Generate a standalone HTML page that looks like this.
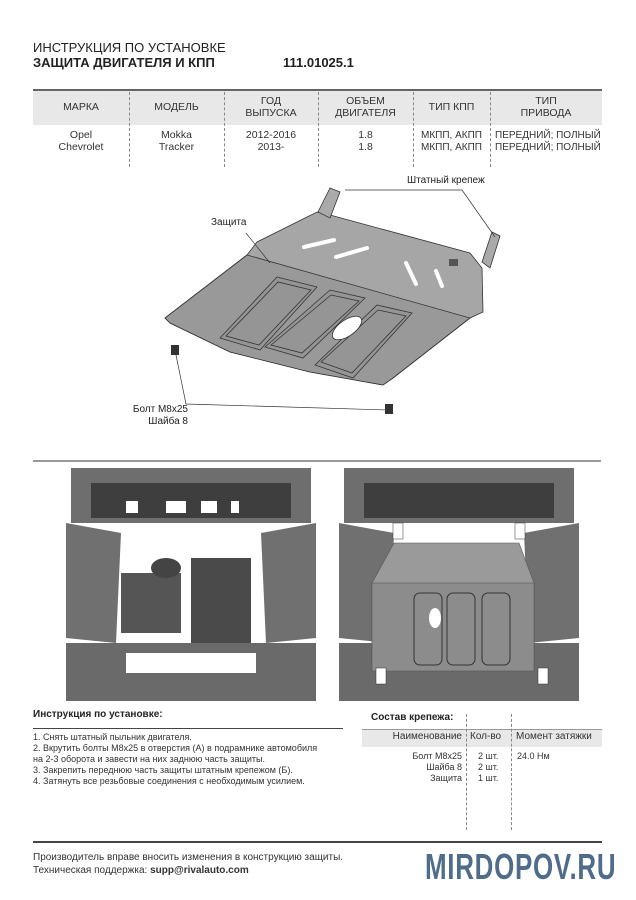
<!DOCTYPE html>
<html><head><meta charset="utf-8"><style>
body{margin:0;background:#fff;width:636px;height:900px;overflow:hidden;position:relative;font-family:"Liberation Sans","DejaVu Sans",sans-serif;color:#222}
.a{position:absolute;white-space:nowrap}
.th{position:absolute;font-size:10.5px;text-align:center;line-height:12px;color:#333;white-space:nowrap}
.td{position:absolute;font-size:10.5px;text-align:center;line-height:11.5px;color:#333;white-space:nowrap}
.dv{position:absolute;border-left:1px dashed #888}
.l{font-size:9px;line-height:11px;color:#333}
</style></head><body>
<div class="a" style="left:33px;top:40px;font-size:13px;color:#222">ИНСТРУКЦИЯ ПО УСТАНОВКЕ</div>
<div class="a" style="left:33px;top:55px;font-size:13px;font-weight:bold">ЗАЩИТА ДВИГАТЕЛЯ И КПП</div>
<div class="a" style="left:283px;top:55px;font-size:13px;font-weight:bold">111.01025.1</div>

<div class="a" style="left:33px;top:89px;width:569px;height:34px;background:#e8e8e8;border-top:2px solid #666"></div>
<div class="th" style="left:33px;top:101px;width:96px">МАРКА</div>
<div class="th" style="left:129px;top:101px;width:95px">МОДЕЛЬ</div>
<div class="th" style="left:224px;top:95px;width:94px">ГОД<br>ВЫПУСКА</div>
<div class="th" style="left:318px;top:95px;width:95px">ОБЪЕМ<br>ДВИГАТЕЛЯ</div>
<div class="th" style="left:413px;top:101px;width:77px">ТИП КПП</div>
<div class="th" style="left:490px;top:95px;width:112px">ТИП<br>ПРИВОДА</div>
<div class="td" style="left:33px;top:130px;width:96px">Opel<br>Chevrolet</div>
<div class="td" style="left:129px;top:130px;width:95px">Mokka<br>Tracker</div>
<div class="td" style="left:224px;top:130px;width:94px">2012-2016<br>2013-</div>
<div class="td" style="left:318px;top:130px;width:95px">1.8<br>1.8</div>
<div class="td" style="left:413px;top:130px;width:77px;font-size:10px">МКПП, АКПП<br>МКПП, АКПП</div>
<div class="td" style="left:495px;top:130px;width:110px;text-align:left;font-size:10px">ПЕРЕДНИЙ; ПОЛНЫЙ<br>ПЕРЕДНИЙ; ПОЛНЫЙ</div>
<div class="dv" style="left:129px;top:92px;height:75px"></div>
<div class="dv" style="left:224px;top:92px;height:75px"></div>
<div class="dv" style="left:318px;top:92px;height:75px"></div>
<div class="dv" style="left:413px;top:92px;height:75px"></div>
<div class="dv" style="left:490px;top:92px;height:75px"></div>

<svg class="a" style="left:0;top:160px" width="636" height="280" viewBox="0 160 636 280">
<g stroke="#333" stroke-width="0.8">
<polygon points="165,318 247,255 257,242 317,212 330,215 470,253 482,268 483,312 470,318 393,378 383,385 310,372 230,352 170,323" fill="#a6a6a6"/>
<polygon points="247,255 470,318 393,378 383,385 310,372 230,352 170,323 165,318" fill="#999"/>
<polygon points="318,212 330,188 340,192 330,218" fill="#aaa"/>
<polygon points="482,262 492,232 500,236 490,268" fill="#aaa"/>
<polygon points="220,338 277,277 317,287 260,350" fill="#959595" stroke-linejoin="round"/>
<polygon points="226,336 278,282 311,290 259,345" fill="none"/>
<polygon points="265,347 330,290 365,298 303,358" fill="#959595"/>
<polygon points="271,345 331,295 359,301 302,353" fill="none"/>
<polygon points="315,365 377,305 412,313 353,378" fill="#959595"/>
<polygon points="321,362 378,310 406,316 352,373" fill="none"/>
<ellipse cx="347" cy="328" rx="17" ry="8" transform="rotate(-35 347 328)" fill="#fff"/>
</g>
<g stroke="#fff" stroke-width="4" stroke-linecap="round">
<line x1="304" y1="247" x2="334" y2="240"/><line x1="336" y1="257" x2="367" y2="248"/>
<line x1="406" y1="263" x2="416" y2="284"/><line x1="436" y1="271" x2="442" y2="286"/>
</g>
<rect x="449" y="259" width="9" height="7" fill="#555"/>
<g stroke="#333" stroke-width="0.7" fill="none">
<line x1="246" y1="233" x2="270" y2="263"/>
<polyline points="345,190 462,190 495,237"/>
<polyline points="176,355 186,404 388,410"/>
</g>
<rect x="171" y="345" width="8" height="10" fill="#333"/>
<rect x="385" y="404" width="8" height="10" fill="#333"/>
</svg>
<div class="a" style="left:211px;top:217px;font-size:10px">Защита</div>
<div class="a" style="left:407px;top:175px;font-size:10px">Штатный крепеж</div>
<div class="a" style="left:100px;top:404px;width:88px;text-align:right;font-size:10px;line-height:12px">Болт М8х25<br>Шайба 8</div>

<div class="a" style="left:33px;top:460px;width:568px;border-top:2px solid #999"></div>
<svg class="a" style="left:66px;top:463px" width="250" height="238">
<rect width="250" height="238" fill="#fff"/>
<rect x="5" y="5" width="240" height="55" fill="#6e6e6e"/>
<rect x="25" y="20" width="200" height="35" fill="#3e3e3e"/>
<rect x="60" y="38" width="12" height="12" fill="#fff"/><rect x="100" y="38" width="20" height="12" fill="#fff"/><rect x="135" y="38" width="16" height="12" fill="#fff"/><rect x="165" y="38" width="8" height="12" fill="#fff"/>
<polygon points="0,60 55,70 50,180 0,175" fill="#707070"/><polygon points="250,60 195,70 200,180 250,175" fill="#707070"/>
<rect x="55" y="110" width="60" height="60" fill="#555"/><rect x="125" y="95" width="60" height="140" fill="#4a4a4a"/>
<ellipse cx="100" cy="105" rx="15" ry="10" fill="#444"/>
<rect x="0" y="180" width="250" height="58" fill="#6a6a6a"/><rect x="60" y="190" width="130" height="20" fill="#fff"/>
</svg>
<svg class="a" style="left:339px;top:463px" width="240" height="238">
<rect width="240" height="238" fill="#fff"/>
<rect x="5" y="5" width="230" height="55" fill="#6e6e6e"/>
<rect x="25" y="20" width="190" height="35" fill="#3e3e3e"/>
<polygon points="0,60 55,70 50,180 0,175" fill="#707070"/><polygon points="240,60 185,70 190,180 240,175" fill="#707070"/>
<rect x="0" y="180" width="240" height="58" fill="#6a6a6a"/>
<polygon points="55,80 180,80 195,120 195,205 33,205 33,120" fill="#9a9a9a" stroke="#555" stroke-width="0.6"/>
<rect x="33" y="120" width="162" height="88" fill="#8c8c8c" stroke="#555" stroke-width="0.6"/>
<rect x="75" y="130" width="28" height="72" rx="6" fill="none" stroke="#333"/><rect x="108" y="130" width="28" height="72" rx="6" fill="none" stroke="#333"/><rect x="143" y="130" width="28" height="72" rx="6" fill="none" stroke="#333"/>
<ellipse cx="96" cy="155" rx="6" ry="10" fill="#fff"/>
<rect x="54" y="60" width="10" height="16" fill="#fff" stroke="#333" stroke-width=".5"/><rect x="176" y="60" width="10" height="16" fill="#fff" stroke="#333" stroke-width=".5"/>
<rect x="37" y="205" width="10" height="16" fill="#fff" stroke="#333" stroke-width=".5"/><rect x="199" y="205" width="10" height="16" fill="#fff" stroke="#333" stroke-width=".5"/>
</svg>

<div class="a" style="left:33px;top:709px;font-size:10px;font-weight:bold">Инструкция по установке:</div>
<div class="a" style="left:33px;top:728px;width:310px;border-top:1px solid #444"></div>
<div class="a l" style="left:33px;top:732px">1. Снять штатный пыльник двигателя.<br>2. Вкрутить болты М8х25 в отверстия (А) в подрамнике автомобиля<br>на 2-3 оборота и завести на них заднюю часть защиты.<br>3. Закрепить переднюю часть защиты штатным крепежом (Б).<br>4. Затянуть все резьбовые соединения с необходимым усилием.</div>

<div class="a" style="left:371px;top:712px;font-size:10px;font-weight:bold">Состав крепежа:</div>
<div class="a" style="left:362px;top:729px;width:240px;height:17px;background:#e8e8e8;border-top:1px solid #999"></div>
<div class="a" style="left:362px;top:731px;width:100px;text-align:right;font-size:10px;color:#333">Наименование</div>
<div class="a" style="left:470px;top:731px;font-size:10px;color:#333">Кол-во</div>
<div class="a" style="left:516px;top:731px;font-size:10px;color:#333">Момент затяжки</div>
<div class="a l" style="left:362px;top:751px;width:100px;text-align:right">Болт М8х25<br>Шайба 8<br>Защита</div>
<div class="a l" style="left:478px;top:751px">2 шт.<br>2 шт.<br>1 шт.</div>
<div class="a l" style="left:517px;top:751px">24.0 Нм</div>
<div class="dv" style="left:466px;top:714px;height:116px"></div>
<div class="dv" style="left:511px;top:714px;height:116px"></div>

<div class="a" style="left:33px;top:841px;width:569px;border-top:2px solid #444"></div>
<div class="a" style="left:33px;top:851px;font-size:10px;line-height:13px;color:#333">Производитель вправе вносить изменения в конструкцию защиты.<br>Техническая поддержка: <b>supp@rivalauto.com</b></div>
<div class="a" style="left:425px;top:846px;font-size:36px;font-weight:bold;color:#4f6c8a;transform:scaleX(0.72);transform-origin:0 0;letter-spacing:1px">MIRDOPOV.RU</div>
</body></html>
